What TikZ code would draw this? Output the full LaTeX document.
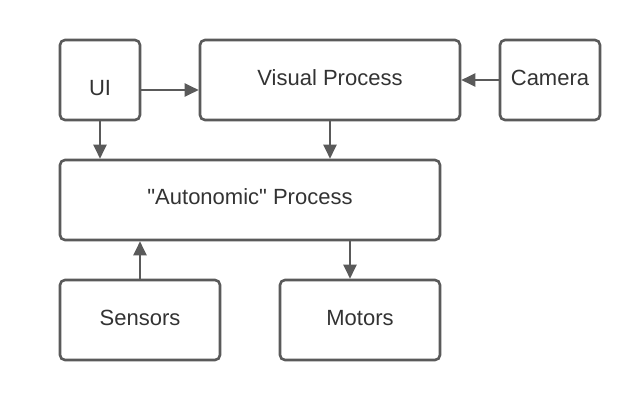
\documentclass[tikz,border=0pt]{standalone}
\usepackage{fontspec}
\setmainfont{Liberation Sans}[Ligatures=TeXOff]
\usetikzlibrary{arrows.meta}
\definecolor{linegray}{HTML}{5A5A5A}
\definecolor{textgray}{HTML}{333333}
\begin{document}
\begin{tikzpicture}[x=1pt,y=-1pt,
  box/.style={draw=linegray, line width=2.6pt, rounded corners=5pt, fill=white,
    inner sep=0pt, text=textgray, font=\fontsize{22}{24}\selectfont},
  txt/.style={inner sep=0pt, text=textgray, font=\fontsize{22}{24}\selectfont},
  arr/.style={draw=linegray, line width=2.2pt, -{Triangle[length=14pt,width=13pt]}}]
\useasboundingbox[fill=white] (0,0) rectangle (640,400);
\node[box, minimum width=80pt, minimum height=80pt] (ui) at (100,80) {};
\node[txt] (uitext) at (100,88) {UI};
\node[box, minimum width=260pt, minimum height=80pt] (vp) at (330,80) {};
\node[txt] (vptext) at (330,78) {Visual Process};
\node[box, minimum width=100pt, minimum height=80pt] (cam) at (550,80) {};
\node[txt] (camtext) at (550,78) {Camera};
\node[box, minimum width=380pt, minimum height=80pt] (auto) at (250,200) {};
\node[txt] (autotext) at (250,197) {"Autonomic" Process};
\node[box, minimum width=160pt, minimum height=80pt] (sens) at (140,320) {};
\node[txt] (senstext) at (140,318) {Sensors};
\node[box, minimum width=160pt, minimum height=80pt] (mot) at (360,320) {};
\node[txt] (mottext) at (360,318) {Motors};
\draw[arr] ([yshift=-10pt]ui.east) -- ([yshift=-10pt]vp.west);
\draw[arr] (cam.west) -- (vp.east);
\draw[arr] (ui.south) -- (ui.south |- auto.north);
\draw[arr] (vp.south) -- (vp.south |- auto.north);
\draw[arr] (sens.north) -- (sens.north |- auto.south);
\draw[arr] ([xshift=-10pt]mot.north |- auto.south) -- ([xshift=-10pt]mot.north);
\end{tikzpicture}
\end{document}
